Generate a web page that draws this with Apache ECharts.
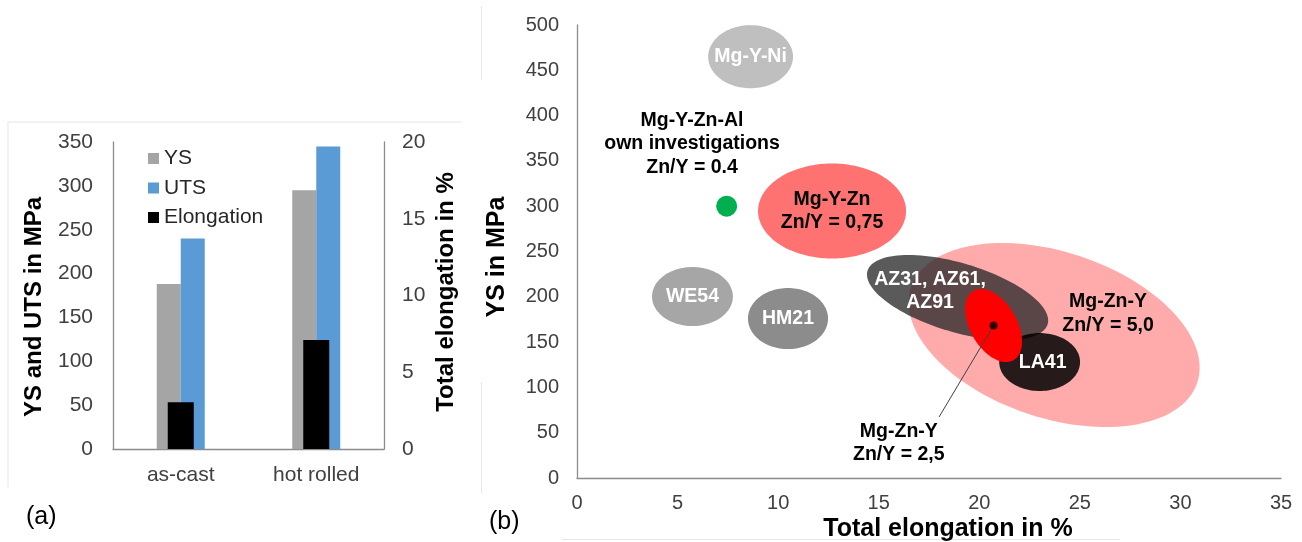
<!DOCTYPE html>
<html>
<head>
<meta charset="utf-8">
<script src="https://cdn.jsdelivr.net/npm/echarts@6/dist/echarts.min.js"></script>
<style>
html,body{margin:0;padding:0;background:#fff;}
#chart{width:1302px;height:542px;}
</style>
</head>
<body>
<div id="chart"></div>
<script>
// ---------- Panel (a): bar chart ----------
const conditions = ['as-cast', 'hot rolled'];
const ysValues = [188, 295];          // MPa
const utsValues = [240, 345];         // MPa
const elongationValues = [3.05, 7.1]; // %
const leftTicks = {min: 0, max: 350, interval: 50};
const rightTicks = {min: 0, max: 20, interval: 5};

// ---------- Panel (b): property regions ----------
const alloyNames = ['Mg-Y-Ni', 'Mg-Y-Zn\nZn/Y = 0,75', 'WE54', 'HM21', 'Mg-Zn-Y Zn/Y = 5,0', 'AZ31, AZ61,\nAZ91', 'LA41', 'Mg-Zn-Y Zn/Y = 2,5'];
const regionElong = [8.63, 12.68, 5.74, 10.49, 23.72, 18.92, 23.0, 20.71];   // centre, %
const regionYS = [465, 294.7, 200.3, 176, 157.8, 199.2, 128, 168.3];         // centre, MPa
const regionElongSpread = [2.11, 3.68, 2.01, 1.99, 7.5, 4.67, 2.01, 1.16];   // semi-axis, %
const regionYSSpread = [34.8, 52.4, 32.6, 33.7, 91.6, 38.1, 32, 44.2];       // semi-axis, MPa

const ownPoint = [7.44, 300];   // Mg-Y-Zn-Al own investigations
const xTicks = {min: 0, max: 35, interval: 5};
const yTicks = {min: 0, max: 500, interval: 50};

// annotation texts and their anchor in data units
const annoText = ['Mg-Y-Ni', 'Mg-Y-Zn\nZn/Y = 0,75', 'WE54', 'HM21', 'Mg-Zn-Y\nZn/Y = 5,0', 'AZ31, AZ61,\nAZ91', 'LA41', 'Mg-Zn-Y\nZn/Y = 2,5', 'Mg-Y-Zn-Al\nown investigations\nZn/Y = 0.4'];
const annoElong = [8.63, 12.68, 5.74, 10.49, 26.4, 17.55, 23.15, 16.0, 5.72];
const annoYS = [465, 294.7, 200.3, 176, 181.6, 206.4, 127, 38.6, 368.7];
const leaderLine = [[20.71, 168.3], [18.0, 67.3]];

// ---------- styles ----------
const regionColors = ['#bfbfbf', '#ff7272', '#a6a6a6', '#8c8c8c', '#ffabab', 'rgba(38,38,38,0.76)', 'rgba(0,0,0,0.85)', '#ff0000'];
const regionTilt = [0, 0, 0, 0, 18.4, 16.5, 0, -30];
const annoColors = ['#fff', '#000', '#fff', '#fff', '#000', '#fff', '#fff', '#000', '#000'];
const FONT = '"Liberation Sans", Arial, Helvetica, sans-serif';
const axisGray = '#8c8c8c';
const tickColor = '#404040';

const chart = echarts.init(document.getElementById('chart'), null, {renderer: 'canvas'});

function renderRegion(params, api) {
  const i = params.dataIndex;
  const c = api.coord([api.value(0), api.value(1)]);
  const s = api.size([api.value(2), api.value(3)]);
  const a = s[0], b = s[1];
  const phi = regionTilt[i] * Math.PI / 180;
  const pts = [];
  const N = 120;
  for (let k = 0; k < N; k++) {
    const t = k / N * 2 * Math.PI;
    const x = a * Math.cos(t), y = b * Math.sin(t);
    pts.push([c[0] + x * Math.cos(phi) - y * Math.sin(phi), c[1] + x * Math.sin(phi) + y * Math.cos(phi)]);
  }
  return {type: 'polygon', shape: {points: pts}, style: {fill: regionColors[i]}};
}

function renderAnno(params, api) {
  const i = params.dataIndex;
  const c = api.coord([api.value(0), api.value(1)]);
  return {
    type: 'text',
    style: {
      text: annoText[i], x: c[0], y: c[1],
      align: 'center', verticalAlign: 'middle',
      fill: annoColors[i],
      font: 'bold 19.5px ' + FONT,
      lineHeight: 23.5
    }
  };
}

const option = {
  animation: false,
  backgroundColor: '#fff',
  textStyle: {fontFamily: FONT},
  grid: [
    {left: 113, top: 142, width: 271, height: 307, containLabel: false},
    {left: 577, top: 25, width: 704, height: 453, containLabel: false}
  ],
  legend: {
    data: ['YS', 'UTS', 'Elongation'],
    orient: 'vertical',
    left: 143, top: 143,
    itemWidth: 11, itemHeight: 11, itemGap: 8.5,
    icon: 'rect',
    textStyle: {fontSize: 21, color: '#262626', fontFamily: FONT, lineHeight: 21}
  },
  xAxis: [
    {type: 'category', gridIndex: 0, data: conditions,
      axisLine: {lineStyle: {color: axisGray, width: 1.3}}, axisTick: {show: false},
      axisLabel: {fontSize: 21, color: tickColor, margin: 16, fontFamily: FONT}},
    {type: 'category', gridIndex: 0, data: conditions, show: false},
    {type: 'value', gridIndex: 1, min: xTicks.min, max: xTicks.max, interval: xTicks.interval,
      axisLine: {show: true, lineStyle: {color: axisGray, width: 1.3}}, axisTick: {show: false}, splitLine: {show: false},
      axisLabel: {fontSize: 20, color: tickColor, margin: 15, fontFamily: FONT}}
  ],
  yAxis: [
    {type: 'value', gridIndex: 0, min: leftTicks.min, max: leftTicks.max, interval: leftTicks.interval,
      axisLine: {show: true, lineStyle: {color: axisGray, width: 1.3}}, axisTick: {show: false}, splitLine: {show: false},
      axisLabel: {fontSize: 21, color: tickColor, margin: 20, fontFamily: FONT}},
    {type: 'value', gridIndex: 0, position: 'right', min: rightTicks.min, max: rightTicks.max, interval: rightTicks.interval,
      axisLine: {show: true, lineStyle: {color: axisGray, width: 1.3}}, axisTick: {show: false}, splitLine: {show: false},
      axisLabel: {fontSize: 21, color: tickColor, margin: 18, fontFamily: FONT}},
    {type: 'value', gridIndex: 1, min: yTicks.min, max: yTicks.max, interval: yTicks.interval,
      axisLine: {show: true, lineStyle: {color: axisGray, width: 1.3}}, axisTick: {show: false}, splitLine: {show: false},
      axisLabel: {fontSize: 20, color: tickColor, margin: 18, fontFamily: FONT}}
  ],
  series: [
    {name: 'YS', type: 'bar', xAxisIndex: 0, yAxisIndex: 0, data: ysValues, barWidth: 24, barGap: '0%',
      itemStyle: {color: '#a5a5a5'}},
    {name: 'UTS', type: 'bar', xAxisIndex: 0, yAxisIndex: 0, data: utsValues, barWidth: 24, barGap: '0%',
      itemStyle: {color: '#5b9bd5'}},
    {name: 'Elongation', type: 'bar', xAxisIndex: 1, yAxisIndex: 1, data: elongationValues, barWidth: 26,
      itemStyle: {color: '#000000'}, z: 3},
    {name: 'regions', type: 'custom', xAxisIndex: 2, yAxisIndex: 2, renderItem: renderRegion, z: 2,
      data: alloyNames.map((n, i) => ({name: n, value: [regionElong[i], regionYS[i], regionElongSpread[i], regionYSSpread[i]]})),
      silent: true},
    {name: 'leader', type: 'line', xAxisIndex: 2, yAxisIndex: 2, data: leaderLine, symbol: 'none',
      lineStyle: {color: '#404040', width: 1}, z: 4, silent: true},
    {name: 'centre', type: 'scatter', xAxisIndex: 2, yAxisIndex: 2, data: [leaderLine[0]], symbolSize: 8,
      itemStyle: {color: '#000'}, z: 5, silent: true},
    {name: 'own', type: 'scatter', xAxisIndex: 2, yAxisIndex: 2, data: [ownPoint], symbolSize: 21,
      itemStyle: {color: '#00b050', opacity: 1}, z: 5, silent: true},
    {name: 'labels', type: 'custom', xAxisIndex: 2, yAxisIndex: 2, renderItem: renderAnno, z: 6, silent: true,
      data: annoText.map((t, i) => [annoElong[i], annoYS[i]])}
  ],
  graphic: [
    // faint frame remnants
    {type: 'line', shape: {x1: 8, y1: 122, x2: 462, y2: 122}, style: {stroke: '#e6e6e6', lineWidth: 1}, silent: true},
    {type: 'line', shape: {x1: 8, y1: 122, x2: 8, y2: 487}, style: {stroke: '#e6e6e6', lineWidth: 1}, silent: true},
    {type: 'line', shape: {x1: 481.5, y1: 6, x2: 481.5, y2: 80}, style: {stroke: '#e6e6e6', lineWidth: 1}, silent: true},
    {type: 'line', shape: {x1: 481.5, y1: 382, x2: 481.5, y2: 493}, style: {stroke: '#e6e6e6', lineWidth: 1}, silent: true},
    {type: 'line', shape: {x1: 562, y1: 539.5, x2: 1120, y2: 539.5}, style: {stroke: '#e6e6e6', lineWidth: 1}, silent: true},
    // axis titles
    {type: 'text', x: 34, y: 307, rotation: Math.PI / 2,
      style: {text: 'YS and UTS in MPa', font: 'bold 24px ' + FONT, fill: '#000', align: 'center', verticalAlign: 'middle'}},
    {type: 'text', x: 446, y: 292, rotation: Math.PI / 2,
      style: {text: 'Total elongation in %', font: 'bold 24px ' + FONT, fill: '#000', align: 'center', verticalAlign: 'middle'}},
    {type: 'text', x: 497, y: 257, rotation: Math.PI / 2,
      style: {text: 'YS in MPa', font: 'bold 25px ' + FONT, fill: '#000', align: 'center', verticalAlign: 'middle'}},
    {type: 'text', x: 948, y: 529,
      style: {text: 'Total elongation in %', font: 'bold 25px ' + FONT, fill: '#000', align: 'center', verticalAlign: 'middle'}},
    // panel labels
    {type: 'text', x: 26, y: 517, style: {text: '(a)', font: '25px ' + FONT, fill: '#000', align: 'left', verticalAlign: 'middle'}},
    {type: 'text', x: 489, y: 522, style: {text: '(b)', font: '25px ' + FONT, fill: '#000', align: 'left', verticalAlign: 'middle'}}
  ]
};
chart.setOption(option);
</script>
</body>
</html>
